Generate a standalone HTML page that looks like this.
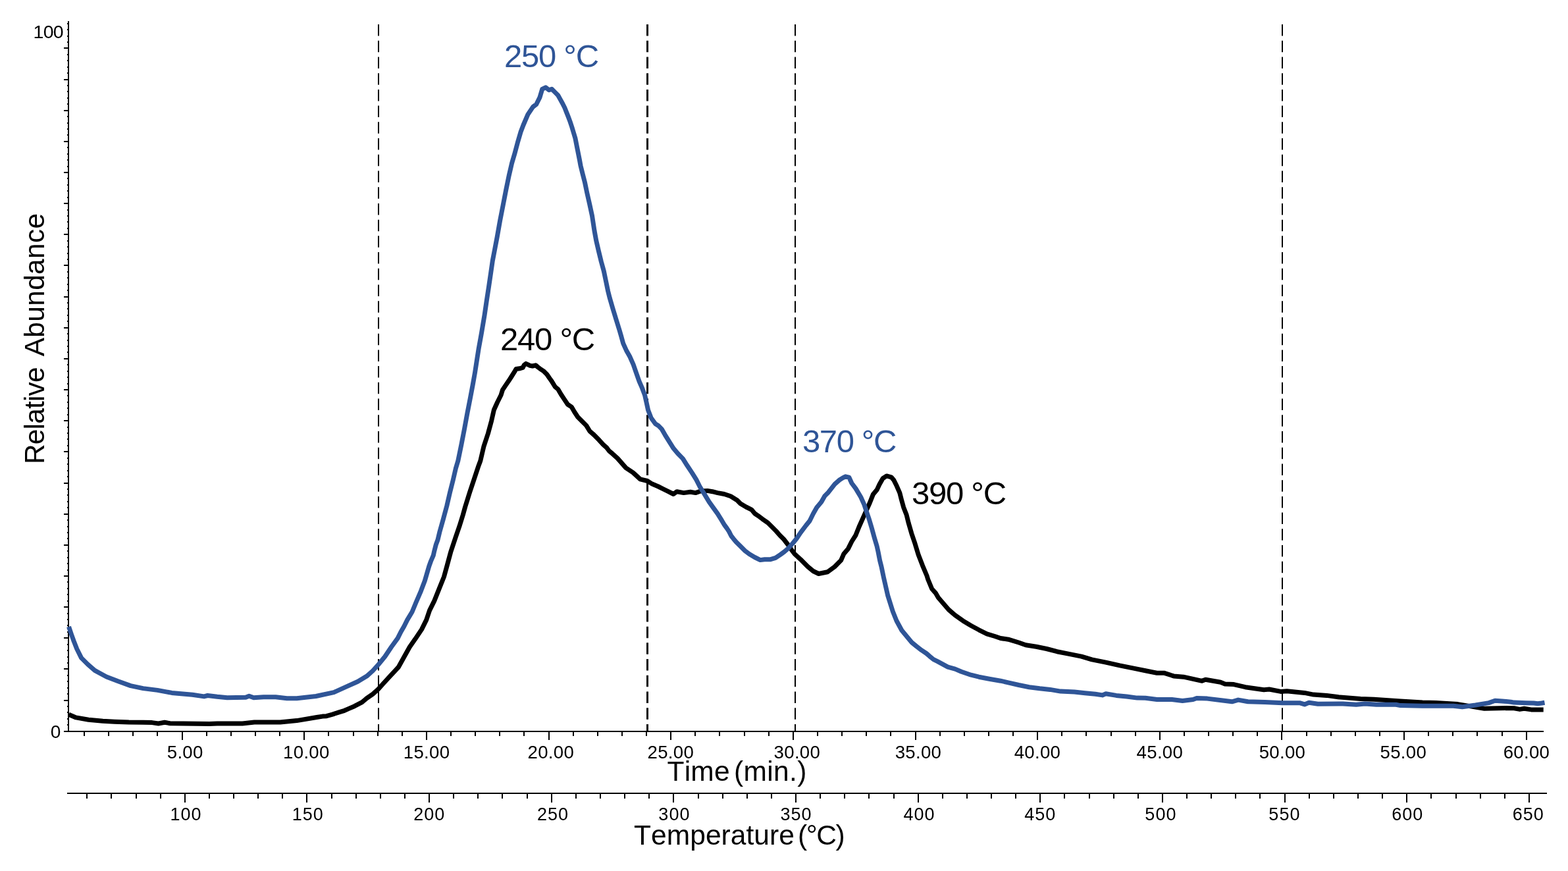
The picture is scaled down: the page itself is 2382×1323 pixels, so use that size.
<!DOCTYPE html>
<html><head><meta charset="utf-8"><title>Chromatogram</title>
<style>html,body{margin:0;padding:0;background:#fff;width:2382px;height:1323px;overflow:hidden}svg{display:block}text{font-kerning:none}</style>
</head><body>
<svg width="2382" height="1323" viewBox="0 0 2382 1323">
<rect width="2382" height="1323" fill="#fff"/>
<g stroke="#000" stroke-width="2" fill="none" shape-rendering="crispEdges">
<line x1="104" y1="32" x2="104" y2="1112"/>
<line x1="97" y1="1063.55" x2="104" y2="1063.55"/>
<line x1="97" y1="1016.4" x2="104" y2="1016.4"/>
<line x1="97" y1="969.25" x2="104" y2="969.25"/>
<line x1="97" y1="922.1" x2="104" y2="922.1"/>
<line x1="97" y1="874.95" x2="104" y2="874.95"/>
<line x1="97" y1="827.8" x2="104" y2="827.8"/>
<line x1="97" y1="780.65" x2="104" y2="780.65"/>
<line x1="97" y1="733.5" x2="104" y2="733.5"/>
<line x1="97" y1="686.35" x2="104" y2="686.35"/>
<line x1="97" y1="639.2" x2="104" y2="639.2"/>
<line x1="97" y1="592.05" x2="104" y2="592.05"/>
<line x1="97" y1="544.9" x2="104" y2="544.9"/>
<line x1="97" y1="497.75" x2="104" y2="497.75"/>
<line x1="97" y1="450.6" x2="104" y2="450.6"/>
<line x1="97" y1="403.45" x2="104" y2="403.45"/>
<line x1="97" y1="356.3" x2="104" y2="356.3"/>
<line x1="97" y1="309.15" x2="104" y2="309.15"/>
<line x1="97" y1="262" x2="104" y2="262"/>
<line x1="97" y1="214.85" x2="104" y2="214.85"/>
<line x1="97" y1="167.7" x2="104" y2="167.7"/>
<line x1="97" y1="120.55" x2="104" y2="120.55"/>
<line x1="97" y1="73.4" x2="104" y2="73.4"/>
<line x1="101.5" y1="1101.27" x2="104" y2="1101.27"/>
<line x1="101.5" y1="1091.84" x2="104" y2="1091.84"/>
<line x1="101.5" y1="1082.41" x2="104" y2="1082.41"/>
<line x1="101.5" y1="1072.98" x2="104" y2="1072.98"/>
<line x1="101.5" y1="1054.12" x2="104" y2="1054.12"/>
<line x1="101.5" y1="1044.69" x2="104" y2="1044.69"/>
<line x1="101.5" y1="1035.26" x2="104" y2="1035.26"/>
<line x1="101.5" y1="1025.83" x2="104" y2="1025.83"/>
<line x1="101.5" y1="1006.97" x2="104" y2="1006.97"/>
<line x1="101.5" y1="997.54" x2="104" y2="997.54"/>
<line x1="101.5" y1="988.11" x2="104" y2="988.11"/>
<line x1="101.5" y1="978.68" x2="104" y2="978.68"/>
<line x1="101.5" y1="959.82" x2="104" y2="959.82"/>
<line x1="101.5" y1="950.39" x2="104" y2="950.39"/>
<line x1="101.5" y1="940.96" x2="104" y2="940.96"/>
<line x1="101.5" y1="931.53" x2="104" y2="931.53"/>
<line x1="101.5" y1="912.67" x2="104" y2="912.67"/>
<line x1="101.5" y1="903.24" x2="104" y2="903.24"/>
<line x1="101.5" y1="893.81" x2="104" y2="893.81"/>
<line x1="101.5" y1="884.38" x2="104" y2="884.38"/>
<line x1="101.5" y1="865.52" x2="104" y2="865.52"/>
<line x1="101.5" y1="856.09" x2="104" y2="856.09"/>
<line x1="101.5" y1="846.66" x2="104" y2="846.66"/>
<line x1="101.5" y1="837.23" x2="104" y2="837.23"/>
<line x1="101.5" y1="818.37" x2="104" y2="818.37"/>
<line x1="101.5" y1="808.94" x2="104" y2="808.94"/>
<line x1="101.5" y1="799.51" x2="104" y2="799.51"/>
<line x1="101.5" y1="790.08" x2="104" y2="790.08"/>
<line x1="101.5" y1="771.22" x2="104" y2="771.22"/>
<line x1="101.5" y1="761.79" x2="104" y2="761.79"/>
<line x1="101.5" y1="752.36" x2="104" y2="752.36"/>
<line x1="101.5" y1="742.93" x2="104" y2="742.93"/>
<line x1="101.5" y1="724.07" x2="104" y2="724.07"/>
<line x1="101.5" y1="714.64" x2="104" y2="714.64"/>
<line x1="101.5" y1="705.21" x2="104" y2="705.21"/>
<line x1="101.5" y1="695.78" x2="104" y2="695.78"/>
<line x1="101.5" y1="676.92" x2="104" y2="676.92"/>
<line x1="101.5" y1="667.49" x2="104" y2="667.49"/>
<line x1="101.5" y1="658.06" x2="104" y2="658.06"/>
<line x1="101.5" y1="648.63" x2="104" y2="648.63"/>
<line x1="101.5" y1="629.77" x2="104" y2="629.77"/>
<line x1="101.5" y1="620.34" x2="104" y2="620.34"/>
<line x1="101.5" y1="610.91" x2="104" y2="610.91"/>
<line x1="101.5" y1="601.48" x2="104" y2="601.48"/>
<line x1="101.5" y1="582.62" x2="104" y2="582.62"/>
<line x1="101.5" y1="573.19" x2="104" y2="573.19"/>
<line x1="101.5" y1="563.76" x2="104" y2="563.76"/>
<line x1="101.5" y1="554.33" x2="104" y2="554.33"/>
<line x1="101.5" y1="535.47" x2="104" y2="535.47"/>
<line x1="101.5" y1="526.04" x2="104" y2="526.04"/>
<line x1="101.5" y1="516.61" x2="104" y2="516.61"/>
<line x1="101.5" y1="507.18" x2="104" y2="507.18"/>
<line x1="101.5" y1="488.32" x2="104" y2="488.32"/>
<line x1="101.5" y1="478.89" x2="104" y2="478.89"/>
<line x1="101.5" y1="469.46" x2="104" y2="469.46"/>
<line x1="101.5" y1="460.03" x2="104" y2="460.03"/>
<line x1="101.5" y1="441.17" x2="104" y2="441.17"/>
<line x1="101.5" y1="431.74" x2="104" y2="431.74"/>
<line x1="101.5" y1="422.31" x2="104" y2="422.31"/>
<line x1="101.5" y1="412.88" x2="104" y2="412.88"/>
<line x1="101.5" y1="394.02" x2="104" y2="394.02"/>
<line x1="101.5" y1="384.59" x2="104" y2="384.59"/>
<line x1="101.5" y1="375.16" x2="104" y2="375.16"/>
<line x1="101.5" y1="365.73" x2="104" y2="365.73"/>
<line x1="101.5" y1="346.87" x2="104" y2="346.87"/>
<line x1="101.5" y1="337.44" x2="104" y2="337.44"/>
<line x1="101.5" y1="328.01" x2="104" y2="328.01"/>
<line x1="101.5" y1="318.58" x2="104" y2="318.58"/>
<line x1="101.5" y1="299.72" x2="104" y2="299.72"/>
<line x1="101.5" y1="290.29" x2="104" y2="290.29"/>
<line x1="101.5" y1="280.86" x2="104" y2="280.86"/>
<line x1="101.5" y1="271.43" x2="104" y2="271.43"/>
<line x1="101.5" y1="252.57" x2="104" y2="252.57"/>
<line x1="101.5" y1="243.14" x2="104" y2="243.14"/>
<line x1="101.5" y1="233.71" x2="104" y2="233.71"/>
<line x1="101.5" y1="224.28" x2="104" y2="224.28"/>
<line x1="101.5" y1="205.42" x2="104" y2="205.42"/>
<line x1="101.5" y1="195.99" x2="104" y2="195.99"/>
<line x1="101.5" y1="186.56" x2="104" y2="186.56"/>
<line x1="101.5" y1="177.13" x2="104" y2="177.13"/>
<line x1="101.5" y1="158.27" x2="104" y2="158.27"/>
<line x1="101.5" y1="148.84" x2="104" y2="148.84"/>
<line x1="101.5" y1="139.41" x2="104" y2="139.41"/>
<line x1="101.5" y1="129.98" x2="104" y2="129.98"/>
<line x1="101.5" y1="111.12" x2="104" y2="111.12"/>
<line x1="101.5" y1="101.69" x2="104" y2="101.69"/>
<line x1="101.5" y1="92.26" x2="104" y2="92.26"/>
<line x1="101.5" y1="82.83" x2="104" y2="82.83"/>
<line x1="101.5" y1="63.97" x2="104" y2="63.97"/>
<line x1="101.5" y1="54.54" x2="104" y2="54.54"/>
<line x1="101.5" y1="45.11" x2="104" y2="45.11"/>
<line x1="101.5" y1="35.68" x2="104" y2="35.68"/>
<line x1="97" y1="1111" x2="2345" y2="1111"/>
<line x1="128.08" y1="1111" x2="128.08" y2="1118"/>
<line x1="165.21" y1="1111" x2="165.21" y2="1118"/>
<line x1="202.34" y1="1111" x2="202.34" y2="1118"/>
<line x1="239.47" y1="1111" x2="239.47" y2="1118"/>
<line x1="276.6" y1="1111" x2="276.6" y2="1124"/>
<line x1="313.73" y1="1111" x2="313.73" y2="1118"/>
<line x1="350.86" y1="1111" x2="350.86" y2="1118"/>
<line x1="387.99" y1="1111" x2="387.99" y2="1118"/>
<line x1="425.12" y1="1111" x2="425.12" y2="1118"/>
<line x1="462.25" y1="1111" x2="462.25" y2="1124"/>
<line x1="499.38" y1="1111" x2="499.38" y2="1118"/>
<line x1="536.51" y1="1111" x2="536.51" y2="1118"/>
<line x1="573.64" y1="1111" x2="573.64" y2="1118"/>
<line x1="610.77" y1="1111" x2="610.77" y2="1118"/>
<line x1="647.9" y1="1111" x2="647.9" y2="1124"/>
<line x1="685.03" y1="1111" x2="685.03" y2="1118"/>
<line x1="722.16" y1="1111" x2="722.16" y2="1118"/>
<line x1="759.29" y1="1111" x2="759.29" y2="1118"/>
<line x1="796.42" y1="1111" x2="796.42" y2="1118"/>
<line x1="833.55" y1="1111" x2="833.55" y2="1124"/>
<line x1="870.68" y1="1111" x2="870.68" y2="1118"/>
<line x1="907.81" y1="1111" x2="907.81" y2="1118"/>
<line x1="944.94" y1="1111" x2="944.94" y2="1118"/>
<line x1="982.07" y1="1111" x2="982.07" y2="1118"/>
<line x1="1019.2" y1="1111" x2="1019.2" y2="1124"/>
<line x1="1056.33" y1="1111" x2="1056.33" y2="1118"/>
<line x1="1093.46" y1="1111" x2="1093.46" y2="1118"/>
<line x1="1130.59" y1="1111" x2="1130.59" y2="1118"/>
<line x1="1167.72" y1="1111" x2="1167.72" y2="1118"/>
<line x1="1204.85" y1="1111" x2="1204.85" y2="1124"/>
<line x1="1241.98" y1="1111" x2="1241.98" y2="1118"/>
<line x1="1279.11" y1="1111" x2="1279.11" y2="1118"/>
<line x1="1316.24" y1="1111" x2="1316.24" y2="1118"/>
<line x1="1353.37" y1="1111" x2="1353.37" y2="1118"/>
<line x1="1390.5" y1="1111" x2="1390.5" y2="1124"/>
<line x1="1427.63" y1="1111" x2="1427.63" y2="1118"/>
<line x1="1464.76" y1="1111" x2="1464.76" y2="1118"/>
<line x1="1501.89" y1="1111" x2="1501.89" y2="1118"/>
<line x1="1539.02" y1="1111" x2="1539.02" y2="1118"/>
<line x1="1576.15" y1="1111" x2="1576.15" y2="1124"/>
<line x1="1613.28" y1="1111" x2="1613.28" y2="1118"/>
<line x1="1650.41" y1="1111" x2="1650.41" y2="1118"/>
<line x1="1687.54" y1="1111" x2="1687.54" y2="1118"/>
<line x1="1724.67" y1="1111" x2="1724.67" y2="1118"/>
<line x1="1761.8" y1="1111" x2="1761.8" y2="1124"/>
<line x1="1798.93" y1="1111" x2="1798.93" y2="1118"/>
<line x1="1836.06" y1="1111" x2="1836.06" y2="1118"/>
<line x1="1873.19" y1="1111" x2="1873.19" y2="1118"/>
<line x1="1910.32" y1="1111" x2="1910.32" y2="1118"/>
<line x1="1947.45" y1="1111" x2="1947.45" y2="1124"/>
<line x1="1984.58" y1="1111" x2="1984.58" y2="1118"/>
<line x1="2021.71" y1="1111" x2="2021.71" y2="1118"/>
<line x1="2058.84" y1="1111" x2="2058.84" y2="1118"/>
<line x1="2095.97" y1="1111" x2="2095.97" y2="1118"/>
<line x1="2133.1" y1="1111" x2="2133.1" y2="1124"/>
<line x1="2170.23" y1="1111" x2="2170.23" y2="1118"/>
<line x1="2207.36" y1="1111" x2="2207.36" y2="1118"/>
<line x1="2244.49" y1="1111" x2="2244.49" y2="1118"/>
<line x1="2281.62" y1="1111" x2="2281.62" y2="1118"/>
<line x1="2318.75" y1="1111" x2="2318.75" y2="1124"/>
<line x1="102" y1="1205" x2="2350" y2="1205"/>
<line x1="132.27" y1="1205" x2="132.27" y2="1212.5"/>
<line x1="169.4" y1="1205" x2="169.4" y2="1212.5"/>
<line x1="206.53" y1="1205" x2="206.53" y2="1212.5"/>
<line x1="243.66" y1="1205" x2="243.66" y2="1212.5"/>
<line x1="280.79" y1="1205" x2="280.79" y2="1219"/>
<line x1="317.92" y1="1205" x2="317.92" y2="1212.5"/>
<line x1="355.05" y1="1205" x2="355.05" y2="1212.5"/>
<line x1="392.18" y1="1205" x2="392.18" y2="1212.5"/>
<line x1="429.31" y1="1205" x2="429.31" y2="1212.5"/>
<line x1="466.43" y1="1205" x2="466.43" y2="1219"/>
<line x1="503.56" y1="1205" x2="503.56" y2="1212.5"/>
<line x1="540.69" y1="1205" x2="540.69" y2="1212.5"/>
<line x1="577.82" y1="1205" x2="577.82" y2="1212.5"/>
<line x1="614.95" y1="1205" x2="614.95" y2="1212.5"/>
<line x1="652.08" y1="1205" x2="652.08" y2="1219"/>
<line x1="689.21" y1="1205" x2="689.21" y2="1212.5"/>
<line x1="726.34" y1="1205" x2="726.34" y2="1212.5"/>
<line x1="763.47" y1="1205" x2="763.47" y2="1212.5"/>
<line x1="800.6" y1="1205" x2="800.6" y2="1212.5"/>
<line x1="837.73" y1="1205" x2="837.73" y2="1219"/>
<line x1="874.85" y1="1205" x2="874.85" y2="1212.5"/>
<line x1="911.98" y1="1205" x2="911.98" y2="1212.5"/>
<line x1="949.11" y1="1205" x2="949.11" y2="1212.5"/>
<line x1="986.24" y1="1205" x2="986.24" y2="1212.5"/>
<line x1="1023.37" y1="1205" x2="1023.37" y2="1219"/>
<line x1="1060.5" y1="1205" x2="1060.5" y2="1212.5"/>
<line x1="1097.63" y1="1205" x2="1097.63" y2="1212.5"/>
<line x1="1134.76" y1="1205" x2="1134.76" y2="1212.5"/>
<line x1="1171.89" y1="1205" x2="1171.89" y2="1212.5"/>
<line x1="1209.01" y1="1205" x2="1209.01" y2="1219"/>
<line x1="1246.14" y1="1205" x2="1246.14" y2="1212.5"/>
<line x1="1283.27" y1="1205" x2="1283.27" y2="1212.5"/>
<line x1="1320.4" y1="1205" x2="1320.4" y2="1212.5"/>
<line x1="1357.53" y1="1205" x2="1357.53" y2="1212.5"/>
<line x1="1394.66" y1="1205" x2="1394.66" y2="1219"/>
<line x1="1431.79" y1="1205" x2="1431.79" y2="1212.5"/>
<line x1="1468.92" y1="1205" x2="1468.92" y2="1212.5"/>
<line x1="1506.05" y1="1205" x2="1506.05" y2="1212.5"/>
<line x1="1543.18" y1="1205" x2="1543.18" y2="1212.5"/>
<line x1="1580.3" y1="1205" x2="1580.3" y2="1219"/>
<line x1="1617.43" y1="1205" x2="1617.43" y2="1212.5"/>
<line x1="1654.56" y1="1205" x2="1654.56" y2="1212.5"/>
<line x1="1691.69" y1="1205" x2="1691.69" y2="1212.5"/>
<line x1="1728.82" y1="1205" x2="1728.82" y2="1212.5"/>
<line x1="1765.95" y1="1205" x2="1765.95" y2="1219"/>
<line x1="1803.08" y1="1205" x2="1803.08" y2="1212.5"/>
<line x1="1840.21" y1="1205" x2="1840.21" y2="1212.5"/>
<line x1="1877.34" y1="1205" x2="1877.34" y2="1212.5"/>
<line x1="1914.47" y1="1205" x2="1914.47" y2="1212.5"/>
<line x1="1951.6" y1="1205" x2="1951.6" y2="1219"/>
<line x1="1988.72" y1="1205" x2="1988.72" y2="1212.5"/>
<line x1="2025.85" y1="1205" x2="2025.85" y2="1212.5"/>
<line x1="2062.98" y1="1205" x2="2062.98" y2="1212.5"/>
<line x1="2100.11" y1="1205" x2="2100.11" y2="1212.5"/>
<line x1="2137.24" y1="1205" x2="2137.24" y2="1219"/>
<line x1="2174.37" y1="1205" x2="2174.37" y2="1212.5"/>
<line x1="2211.5" y1="1205" x2="2211.5" y2="1212.5"/>
<line x1="2248.63" y1="1205" x2="2248.63" y2="1212.5"/>
<line x1="2285.76" y1="1205" x2="2285.76" y2="1212.5"/>
<line x1="2322.88" y1="1205" x2="2322.88" y2="1219"/>
</g>
<g stroke="#000" fill="none" stroke-dasharray="17.5 7.22">
<line x1="575" y1="37" x2="575" y2="1111" stroke-width="2"/>
<line x1="983.5" y1="37" x2="983.5" y2="1111" stroke-width="3"/>
<line x1="1208" y1="37" x2="1208" y2="1111" stroke-width="2"/>
<line x1="1948" y1="37" x2="1948" y2="1111" stroke-width="2"/>
</g>
<path d="M104.5 1085.1 L108.6 1087.1 L115.4 1089.9 L134.5 1093.3 L156.2 1095.3 L173.9 1096.3 L195.7 1097.1 L217.4 1097.3 L231 1097.6 L240.6 1099 L250.1 1097.3 L258.3 1098.7 L318.1 1099.4 L330 1099.1 L368.3 1099.1 L386.4 1097.1 L425.7 1097.1 L450.9 1094.6 L481.1 1089.5 L490 1088.1 L496 1087.7 L505.1 1085.1 L514.2 1082.2 L523.3 1079.3 L529.3 1076.6 L538.4 1072.7 L550 1066.7 L557.1 1060.7 L566.2 1054.3 L574.3 1047.1 L582.5 1038 L593.4 1026.2 L605.2 1013.5 L612.7 1000 L622.3 982.7 L630.8 970.6 L640.5 956.1 L647.7 941.6 L652.6 927.1 L659.8 912.6 L667.1 894.4 L674.4 876.3 L678.9 860 L684.3 840 L684.9 837.8 L691.7 817.4 L697.8 799.7 L703.3 782 L706.7 769.8 L713.5 748 L720.3 727.6 L727.1 707.2 L729.8 700 L735 677.8 L741.4 658.5 L746.6 639.3 L750.4 622.5 L755.6 611 L761.1 600 L763.4 592.4 L767.9 585.6 L772.6 578.8 L777 572 L781.3 565.2 L784 560.5 L789.1 559.8 L794.2 558.4 L796.2 554.5 L798.9 552.4 L802.2 553.9 L805.2 555.4 L808.9 556 L813.7 554.8 L817.3 557.8 L821.9 561.2 L826.4 564.2 L830.9 568.7 L835 574.8 L838 578.9 L843.1 587.3 L847.6 591.1 L852.1 598.8 L857.3 606.6 L862.4 614.3 L868.2 618.1 L872.7 625.8 L877.8 633.5 L884.3 640 L890.7 646.4 L895.8 654.8 L902.3 660.5 L910 668.3 L916.4 675.3 L921.5 679.8 L925.4 685 L930 688.8 L938.1 696.1 L950.8 710.6 L961.7 717.8 L972.6 727.8 L983.4 730.5 L990.7 735.1 L1000 739 L1007.7 742.8 L1015.4 746.7 L1023.1 750.5 L1028.3 746.7 L1038.6 748.6 L1048.8 747.3 L1056.6 748.6 L1064.3 746 L1074.6 745.4 L1082.3 746.7 L1090 748.6 L1100.3 750.5 L1110 753.8 L1120 760 L1124.9 765 L1133.3 770 L1141.6 774.1 L1146.6 780 L1151.5 783.3 L1158.2 788.3 L1166.5 794.1 L1172.3 799.9 L1179 806.6 L1184.8 813.2 L1190.6 819 L1196.4 826.5 L1202.2 834.8 L1207.2 841.5 L1216.3 849.8 L1227.2 860.7 L1235.4 867.5 L1243.6 871.5 L1257.2 868.8 L1268.1 860.7 L1277.6 851.1 L1281.7 841.6 L1288.5 833.4 L1293.9 822.5 L1300 812.8 L1305.1 800 L1310.3 788.4 L1315.4 776.8 L1321.2 764 L1326.3 751.1 L1332.1 744.1 L1336 735.7 L1341.1 726.7 L1346.9 722.9 L1354 724.8 L1357.8 729.3 L1362.3 738.3 L1366.8 748.6 L1369.4 758.8 L1372.6 770.4 L1377.1 782 L1380.3 794.8 L1384.8 810.3 L1390 825.7 L1395.1 842.4 L1401.5 859.1 L1408 874.5 L1409.7 880 L1415.7 894.5 L1421.2 900.6 L1425.4 907.8 L1432.7 916.3 L1441.1 926 L1450.8 934.4 L1462.9 942.9 L1475 950.2 L1487.1 956.8 L1499.2 962.9 L1511.3 966.5 L1520 969.5 L1531.7 971.2 L1547.6 976 L1558.2 979.7 L1574.1 982.3 L1589.9 985.5 L1605.8 989.7 L1621.7 992.9 L1642.9 997.1 L1658.7 1001.9 L1679.9 1006.1 L1701.1 1010.9 L1722.2 1015.1 L1740 1018.8 L1757.5 1022.2 L1768.2 1022.2 L1783 1026.9 L1797.8 1028.2 L1826 1034.3 L1831.3 1032.2 L1854.2 1036.3 L1860.9 1039 L1874.3 1039.6 L1891.8 1043.7 L1920 1047.7 L1928.1 1047 L1945.5 1050.4 L1954.9 1049.7 L1981.8 1052.4 L1995.2 1055.1 L2015.4 1056.4 L2035.5 1059.1 L2066.9 1061.6 L2087 1062.2 L2127.3 1064.9 L2160.9 1066.9 L2181.1 1067.6 L2214.6 1069.6 L2254.9 1076.3 L2288.5 1075.6 L2300 1075.8 L2308.7 1077.4 L2315.4 1076.3 L2326.1 1077.9 L2344.7 1077.9" fill="none" stroke="#000" stroke-width="7" stroke-linejoin="round" stroke-linecap="butt"/>
<path d="M104.5 951.8 L108.6 964 L112 973.5 L116.8 985.8 L123.6 999.4 L133.1 1008.9 L144 1018.4 L161.7 1028 L179.4 1034.8 L198.4 1041.6 L217.4 1045.6 L239.2 1048.4 L261 1052.4 L292.3 1055.2 L310 1057.9 L315.4 1056.5 L330 1058.3 L345.1 1059.8 L373.3 1059.3 L378.4 1057.3 L385.4 1059.8 L400.5 1058.8 L418.7 1058.8 L435.8 1060.8 L450.9 1060.8 L480 1057.5 L507.2 1051.6 L525.4 1043.4 L543.5 1035.3 L557.1 1027.1 L566.2 1019 L575.2 1009 L584.8 997.3 L594.5 982.7 L604.2 969.4 L609 959.8 L613.9 951.3 L618.7 941.6 L626 929.5 L632 915 L639.3 898.1 L645.3 882.3 L651.8 860 L654.5 852.5 L658.4 843.3 L659.5 838.1 L662.4 826.9 L665 820 L667.9 807.9 L673.3 788.8 L678.8 768.4 L683.5 748 L688.3 729 L692.4 711.3 L695.8 700 L700.9 675.2 L705.4 652.1 L709.9 627.7 L714.4 604.6 L718.3 584 L721.5 566 L724.7 545.4 L727.1 530 L731.6 505.2 L736.1 478.3 L739.3 456.4 L742.5 435.8 L745.7 414 L748.3 396 L751.5 379.3 L755.2 360 L759.6 335.2 L764.1 312.1 L768.6 289 L773.1 267.1 L777.6 247.8 L782.1 232.4 L786.6 215.7 L791.1 200.3 L795 190 L801.9 173.9 L809.6 162.4 L814.7 158.5 L819.9 148.2 L823.7 135.4 L828.9 132.8 L834 136.7 L838.2 135.2 L843.6 140.6 L847.7 144.7 L851.1 150.9 L854.5 157 L857.9 163.8 L860.6 170.6 L863.3 177.4 L866.1 184.9 L868.8 193 L871.5 201.9 L873.9 210 L877.6 228.8 L880.2 241.7 L882.1 252 L885.3 264.8 L888.6 277.7 L891.8 293.1 L895.6 309.8 L899.5 327.8 L902.9 350 L905.7 365.4 L909.6 382.1 L913.4 397.6 L917.3 411.7 L920.5 427.1 L923.7 442.5 L926.3 452.8 L930.8 468.3 L935.9 485 L941.1 501.7 L943.5 510 L946.7 521.6 L951.9 533.1 L957 542.1 L962.1 553.7 L966.6 566.6 L971.1 579.4 L975.6 589.7 L979.5 600 L982.1 611.5 L984.6 623.1 L989.1 634.7 L995.6 643.7 L1000 646.4 L1005.1 651.6 L1010.3 660.6 L1016.7 670.8 L1023.1 681.1 L1029.6 688.8 L1037.3 696.6 L1043.7 706.8 L1051.4 718.4 L1057.8 728.7 L1063 739 L1069.4 749.3 L1077.1 762.1 L1083.5 771.1 L1090 780.1 L1096.4 790.4 L1100 796.6 L1104.2 802.4 L1107.5 807.4 L1110.8 814 L1114.1 818.2 L1118.3 823.2 L1124.9 829.8 L1131.6 836.5 L1138.2 841.5 L1146.6 846.5 L1154.9 850.6 L1161.5 849.8 L1169.8 849.8 L1178.1 847.3 L1185.6 842.3 L1191.4 838.1 L1198.1 832.3 L1204.7 824.8 L1210 818.2 L1216.3 808.9 L1224.5 798 L1230 791.2 L1235.4 780.3 L1240.8 770.8 L1247.7 762.6 L1253.1 753.1 L1258.5 747.7 L1268.1 735.4 L1274.9 729.3 L1280.3 725.9 L1284.4 723.8 L1289.9 725.2 L1293.9 734 L1300 742.1 L1307.7 755 L1312.9 766.6 L1316.7 778.1 L1320.6 789.7 L1324.4 802.5 L1328.3 816.7 L1332.1 829.5 L1334.1 838.5 L1336.6 851.4 L1339.2 861.7 L1342.4 877.1 L1348.7 904.6 L1356.3 928.8 L1362 943 L1369.9 957.5 L1385 975.7 L1392 981.5 L1400 987.7 L1407.3 992.5 L1412.1 996.7 L1418.1 1001.6 L1424.2 1004.6 L1439.9 1013.1 L1450.8 1016.1 L1460.5 1020.3 L1475 1025.2 L1487.1 1028.2 L1502.8 1031.2 L1520 1034.2 L1531.7 1036.8 L1547.6 1040.5 L1563.5 1043.7 L1579.4 1045.8 L1595.2 1047.4 L1611.1 1050.1 L1632.3 1051.1 L1648.1 1052.7 L1664 1054.3 L1674.6 1055.9 L1679.9 1053.8 L1695.8 1056.4 L1711.6 1058 L1727.5 1060.1 L1740 1060.3 L1757.5 1062.5 L1780.3 1062.5 L1796.4 1064.5 L1812.5 1062.5 L1817.9 1060.5 L1834 1061.1 L1855.5 1063.8 L1871.6 1065.8 L1881 1063.1 L1895.8 1065.8 L1921.4 1066.5 L1948.2 1067.8 L1975.1 1067.8 L1981.8 1069.9 L1988.5 1067.2 L2002 1069.2 L2040 1069 L2060.2 1070.3 L2073.6 1069 L2091 1070.3 L2120.6 1070.3 L2127.3 1071.6 L2160.9 1072.3 L2207.9 1072.3 L2221.4 1073.7 L2241.5 1071 L2261.7 1067.6 L2271.1 1064.3 L2281.8 1064.9 L2295.2 1066.2 L2300 1067.1 L2318 1067.7 L2330 1068.1 L2336 1068.8 L2342 1068 L2346.5 1067.2" fill="none" stroke="#2F5597" stroke-width="7" stroke-linejoin="round" stroke-linecap="butt"/>
<g font-family='"Liberation Sans", Arial, Helvetica, sans-serif' fill="#000">
<text x="281.2" y="1151.8" font-size="27.6" letter-spacing="0.3" text-anchor="middle">5.00</text>
<text x="465.4" y="1151.8" font-size="27.6" letter-spacing="0.3" text-anchor="middle">10.00</text>
<text x="648.1" y="1151.8" font-size="27.6" letter-spacing="0.3" text-anchor="middle">15.00</text>
<text x="836.8" y="1151.8" font-size="27.6" letter-spacing="0.3" text-anchor="middle">20.00</text>
<text x="1018.8" y="1151.8" font-size="27.6" letter-spacing="0.3" text-anchor="middle">25.00</text>
<text x="1210.9" y="1151.8" font-size="27.6" letter-spacing="0.3" text-anchor="middle">30.00</text>
<text x="1395" y="1151.8" font-size="27.6" letter-spacing="0.3" text-anchor="middle">35.00</text>
<text x="1576" y="1151.8" font-size="27.6" letter-spacing="0.3" text-anchor="middle">40.00</text>
<text x="1761.9" y="1151.8" font-size="27.6" letter-spacing="0.3" text-anchor="middle">45.00</text>
<text x="1948" y="1151.8" font-size="27.6" letter-spacing="0.3" text-anchor="middle">50.00</text>
<text x="2131.8" y="1151.8" font-size="27.6" letter-spacing="0.3" text-anchor="middle">55.00</text>
<text x="2319" y="1151.8" font-size="27.6" letter-spacing="0.3" text-anchor="middle">60.00</text>
<text x="282.6" y="1246" font-size="27" letter-spacing="1" text-anchor="middle">100</text>
<text x="467.7" y="1246" font-size="27" letter-spacing="1" text-anchor="middle">150</text>
<text x="652.2" y="1246" font-size="27" letter-spacing="1" text-anchor="middle">200</text>
<text x="840" y="1246" font-size="27" letter-spacing="1" text-anchor="middle">250</text>
<text x="1024.4" y="1246" font-size="27" letter-spacing="1" text-anchor="middle">300</text>
<text x="1209.6" y="1246" font-size="27" letter-spacing="1" text-anchor="middle">350</text>
<text x="1396.6" y="1246" font-size="27" letter-spacing="1" text-anchor="middle">400</text>
<text x="1580.3" y="1246" font-size="27" letter-spacing="1" text-anchor="middle">450</text>
<text x="1763.4" y="1246" font-size="27" letter-spacing="1" text-anchor="middle">500</text>
<text x="1951.4" y="1246" font-size="27" letter-spacing="1" text-anchor="middle">550</text>
<text x="2138.2" y="1246" font-size="27" letter-spacing="1" text-anchor="middle">600</text>
<text x="2321.7" y="1246" font-size="27" letter-spacing="1" text-anchor="middle">650</text>
<text x="1013.5" y="1186" font-size="42.5" letter-spacing="0.2" fill="#000">Time</text>
<text x="1115" y="1186" font-size="42.5" letter-spacing="0.36" fill="#000">(min.)</text>
<text x="963" y="1283" font-size="42.5" letter-spacing="0.06" fill="#000">Temperature</text>
<text x="1212" y="1283" font-size="42.5" letter-spacing="-1.47" fill="#000">(°C)</text>
<text transform="translate(67 705) rotate(-90)" font-size="42.5" letter-spacing="-0.86" fill="#000">Relative</text>
<text transform="translate(67 541.3) rotate(-90)" font-size="42.5" letter-spacing="0.3" fill="#000">Abundance</text>
<text x="766" y="102.2" font-size="49" letter-spacing="-1.26" fill="#2F5597">250 °C</text>
<text x="760" y="532.2" font-size="49" letter-spacing="-1.22" fill="#000">240 °C</text>
<text x="1219" y="687.3" font-size="49" letter-spacing="-1.38" fill="#2F5597">370 °C</text>
<text x="1385" y="766.4" font-size="49" letter-spacing="-1.26" fill="#000">390 °C</text>
<text x="50.5" y="58.1" font-size="28.5" letter-spacing="-0.7" fill="#000">100</text>
<text x="76.7" y="1121" font-size="28" letter-spacing="0" fill="#000">0</text>
</g>
</svg>
</body></html>
